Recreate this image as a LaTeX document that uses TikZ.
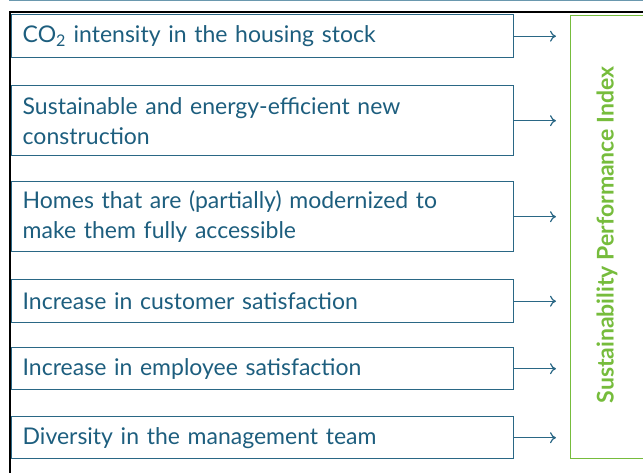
\documentclass[tikz,border=0pt]{standalone}
\usepackage{fontspec}
\setmainfont{Lato}
\usetikzlibrary{arrows.meta}
\definecolor{teal}{HTML}{1D5E7E}
\definecolor{frame}{HTML}{2A6785}
\definecolor{leaf}{HTML}{76BC3C}
\definecolor{rule}{HTML}{6A98AE}
\tikzset{
  kpi/.style={draw=frame, line width=1.4pt, anchor=north west, minimum width=502pt,
    inner xsep=11pt, inner ysep=0pt, text width=480pt, align=left,
    font=\fontsize{23}{30}\selectfont, text=teal},
  feed/.style={draw=frame, line width=1.2pt, -{To[length=6pt,width=11pt]}},
}
\begin{document}
\begin{tikzpicture}[x=1pt,y=-1pt]
\useasboundingbox (0,0) rectangle (643,473);
\clip (0,0) rectangle (643,473);
% page rules
\draw[rule, line width=1pt] (9,0.5) -- (643,0.5);
\draw[black, line width=2.2pt] (9,12) -- (643,12);
\draw[black, line width=2.5pt] (10.2,11) -- (10.2,473);
% indicator boxes
\node[kpi, minimum height=43pt] (b1) at (11,14) {CO\textsubscript{2} intensity in the housing stock};
\node[kpi, minimum height=70pt] (b2) at (11,85) {Sustainable and energy-efficient new\\construction};
\node[kpi, minimum height=70pt] (b3) at (11,181) {Homes that are (partially) modernized to\\make them fully accessible};
\node[kpi, minimum height=43pt] (b4) at (11,279) {Increase in customer satisfaction};
\node[kpi, minimum height=42pt] (b5) at (11,347) {Increase in employee satisfaction};
\node[kpi, minimum height=42pt] (b6) at (11,416) {Diversity in the management team};
% index box
\node[draw=leaf, line width=1.4pt, anchor=north west, minimum width=120pt, minimum height=443pt] (idx) at (570,15) {};
\node[rotate=90, text=leaf, font=\fontsize{23}{26}\selectfont\bfseries] (lbl) at (607,235) {Sustainability Performance Index};
% arrows into the index
\coordinate (tip) at (556,0);
\foreach \b in {b1,b2,b3,b4,b5,b6}
  \draw[feed] (\b.east) -- (\b.east -| tip);
\end{tikzpicture}
\end{document}
